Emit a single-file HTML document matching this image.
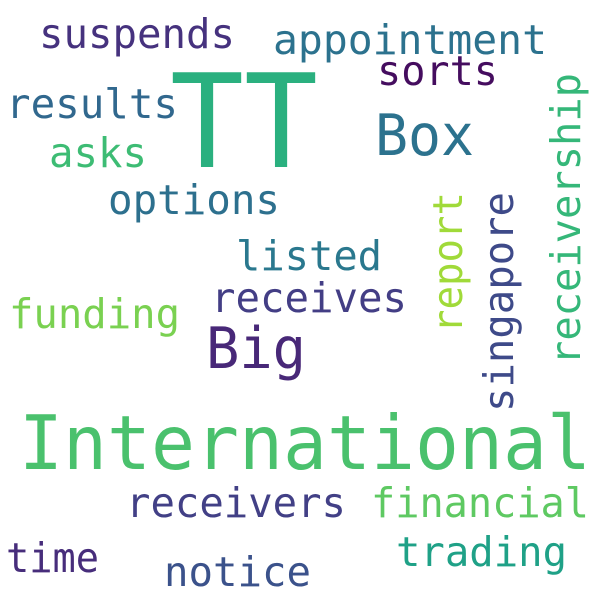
<!DOCTYPE html>
<html><head><meta charset="utf-8"><style>
html,body{margin:0;padding:0;background:#fff;}
svg{display:block;}
text{font-family:"DejaVu Sans Mono","Liberation Mono",monospace;}
</style></head><body>
<svg width="600" height="600" viewBox="0 0 600 600">
<rect width="600" height="600" fill="#fff"/>
<text x="39" y="48" font-size="41" fill="#46327e" textLength="196" lengthAdjust="spacingAndGlyphs">suspends</text>
<text x="273" y="54" font-size="41" fill="#2c728e" textLength="274" lengthAdjust="spacingAndGlyphs">appointment</text>
<text x="170" y="167" font-size="130" fill="#2ab07f" textLength="148" lengthAdjust="spacingAndGlyphs">TT</text>
<text x="377" y="85" font-size="41" fill="#450d5f" textLength="121" lengthAdjust="spacingAndGlyphs">sorts</text>
<text x="6" y="118" font-size="41" fill="#31688e" textLength="172" lengthAdjust="spacingAndGlyphs">results</text>
<text x="375" y="155" font-size="57" fill="#2c728e" textLength="99" lengthAdjust="spacingAndGlyphs">Box</text>
<text x="49" y="167" font-size="41" fill="#3dbc74" textLength="98" lengthAdjust="spacingAndGlyphs">asks</text>
<text x="108" y="214" font-size="41" fill="#2d708e" textLength="172" lengthAdjust="spacingAndGlyphs">options</text>
<text x="236" y="270" font-size="41" fill="#2a788e" textLength="146" lengthAdjust="spacingAndGlyphs">listed</text>
<text x="211" y="312" font-size="41" fill="#433e85" textLength="196" lengthAdjust="spacingAndGlyphs">receives</text>
<text x="9" y="328" font-size="41" fill="#7ad151" textLength="171" lengthAdjust="spacingAndGlyphs">funding</text>
<text x="206" y="368" font-size="57" fill="#482878" textLength="100" lengthAdjust="spacingAndGlyphs">Big</text>
<text x="19" y="469" font-size="75" fill="#4ac16d" textLength="572" lengthAdjust="spacingAndGlyphs">International</text>
<text x="126" y="517" font-size="41" fill="#424086" textLength="220" lengthAdjust="spacingAndGlyphs">receivers</text>
<text x="371" y="517" font-size="41" fill="#5ec962" textLength="218" lengthAdjust="spacingAndGlyphs">financial</text>
<text x="6" y="572" font-size="41" fill="#472d7b" textLength="93" lengthAdjust="spacingAndGlyphs">time</text>
<text x="396" y="566" font-size="41" fill="#1fa187" textLength="171" lengthAdjust="spacingAndGlyphs">trading</text>
<text x="164" y="586" font-size="41" fill="#3b528b" textLength="147" lengthAdjust="spacingAndGlyphs">notice</text>
<text transform="translate(580,365) rotate(-90)" font-size="41" fill="#35b779" textLength="292" lengthAdjust="spacingAndGlyphs">receivership</text>
<text transform="translate(462,333) rotate(-90)" font-size="41" fill="#a0da39" textLength="141" lengthAdjust="spacingAndGlyphs">report</text>
<text transform="translate(513,412) rotate(-90)" font-size="41" fill="#3e4a89" textLength="220" lengthAdjust="spacingAndGlyphs">singapore</text>
</svg>
</body></html>
